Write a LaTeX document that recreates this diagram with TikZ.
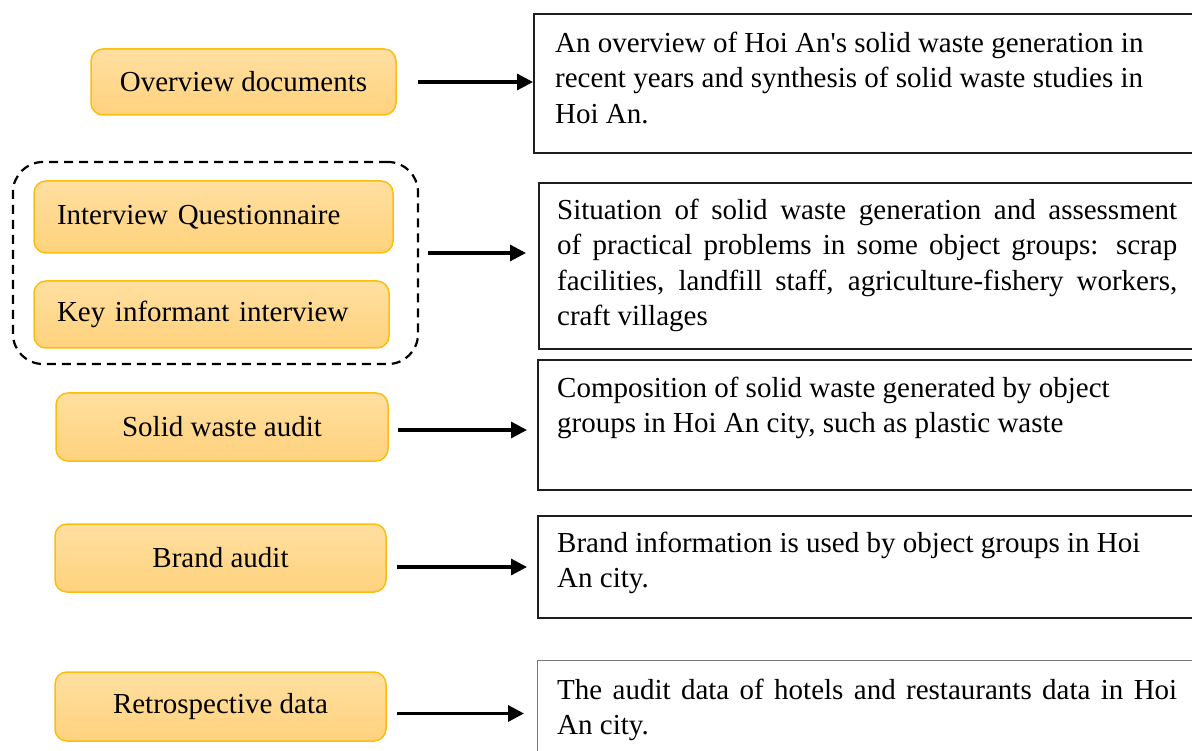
\documentclass[tikz,border=0pt]{standalone}
\usepackage{fontspec}
\setmainfont{Liberation Serif}
\usetikzlibrary{arrows.meta,calc}
\definecolor{boxfillT}{RGB}{255,223,160}
\definecolor{boxfillB}{RGB}{255,210,125}
\definecolor{boxline}{RGB}{250,190,15}
\definecolor{rline}{RGB}{30,30,30}
\definecolor{rlinelight}{RGB}{120,120,120}
\begin{document}
\begin{tikzpicture}[x=1pt,y=-1pt,
  font=\fontsize{29}{35.5}\selectfont,
  obox/.style={draw=boxline, line width=1.5pt, rounded corners=12pt, top color=boxfillT, bottom color=boxfillB, inner sep=0pt},
  rbox/.style={draw=rline, line width=2pt, anchor=north west, inner sep=0pt},
  rtext/.style={anchor=north west, inner sep=0pt, align=left},
  arr/.style={line width=3.2pt, -{Triangle[length=16pt,width=16pt]}},
  grpbox/.style={draw, dash pattern=on 9pt off 6pt, line width=2.2pt, rounded corners=30pt}]
\clip (0,0) rectangle (1192,751);
% left boxes
\node[obox, minimum width=305pt, minimum height=66pt] (ov) at (243.5,82) {Overview documents};
\node[grpbox, minimum width=405pt, minimum height=202pt] (grp) at (215.5,263) {};
\node[obox, minimum width=359pt, minimum height=72pt, text width=313pt, align=left, inner xsep=23pt] (iq) at (213.5,217) {Interview Questionnaire};
\node[obox, minimum width=355pt, minimum height=67pt, text width=309pt, align=left, inner xsep=23pt] (ki) at (211.5,314.5) {Key informant interview};
\node[obox, minimum width=332pt, minimum height=68pt] (sa) at (222,427) {Solid waste audit};
\node[obox, minimum width=331pt, minimum height=68pt] (ba) at (220.5,558) {Brand audit};
\node[obox, minimum width=331pt, minimum height=69pt] (rd) at (220.5,706.5) {Retrospective data};
% right boxes
\node[rbox, minimum width=667pt, minimum height=139pt] (r1) at (533,13) {};
\node[rbox, minimum width=662pt, minimum height=166pt] (r2) at (538,182) {};
\node[rbox, minimum width=663pt, minimum height=130pt] (r3) at (537,359) {};
\node[rbox, minimum width=663pt, minimum height=102pt] (r4) at (537,515) {};
\node[rbox, draw=rlinelight, line width=1.4pt, minimum width=663pt, minimum height=120pt] (r5) at (537,660) {};
% right texts
\node[rtext] (t1) at (555,30) {\rule{0pt}{22pt}An overview of Hoi An\textquotesingle s solid waste generation in\\recent years and synthesis of solid waste studies in\\Hoi An.};
\node[rtext] (t2) at (557,197) {\rule{0pt}{22pt}\makebox[620pt][s]{Situation of solid waste generation and assessment}\\\makebox[620pt][s]{of practical problems in some object groups: scrap}\\\makebox[620pt][s]{facilities, landfill staff, agriculture-fishery workers,}\\craft villages};
\node[rtext] (t3) at (557,375) {\rule{0pt}{22pt}Composition of solid waste generated by object\\groups in Hoi An city, such as plastic waste};
\node[rtext] (t4) at (557,530) {\rule{0pt}{22pt}Brand information is used by object groups in Hoi\\An city.};
\node[rtext] (t5) at (557,677) {\rule{0pt}{22pt}\makebox[620pt][s]{The audit data of hotels and restaurants data in Hoi}\\An city.};
% arrows
\coordinate (a1) at ([xshift=21pt]ov.east);
\coordinate (a2) at ([shift={(9,-10)}]grp.east);
\coordinate (a3) at ([shift={(9,3)}]sa.east);
\coordinate (a4) at ([shift={(10,9)}]ba.east);
\coordinate (a5) at ([shift={(10,7)}]rd.east);
\draw[arr] (a1) -- (a1 -| r1.west);
\draw[arr, shorten >=12pt] (a2) -- (a2 -| r2.west);
\draw[arr, shorten >=10pt] (a3) -- (a3 -| r3.west);
\draw[arr, shorten >=10pt] (a4) -- (a4 -| r4.west);
\draw[arr, shorten >=13pt] (a5) -- (a5 -| r5.west);
\end{tikzpicture}
\end{document}
